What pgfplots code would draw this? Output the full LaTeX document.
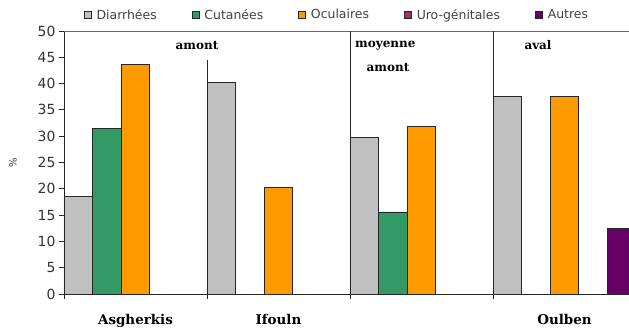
\documentclass[border=0pt]{standalone}
\usepackage{fontspec}
\setmainfont{DejaVu Sans}
\newfontfamily\labfont{DejaVu Serif}
\usepackage{pgfplots}
\pgfplotsset{compat=1.18}
\definecolor{cgrey}{HTML}{C0C0C0}
\definecolor{cgreen}{HTML}{339966}
\definecolor{corange}{HTML}{FF9900}
\definecolor{curo}{HTML}{993366}
\definecolor{cautres}{HTML}{660066}
\begin{document}
\begin{tikzpicture}
\begin{axis}[
  at={(0,0)}, anchor=south west,
  scale only axis, width=572bp, height=263bp,
  ybar=0pt, bar width=0.2,
  xmin=-0.5, xmax=3.5, ymin=0, ymax=50,
  axis x line*=bottom, axis y line*=left,
  axis line style={black!85, line width=0.8bp},
  tick align=outside, major tick length=5bp,
  tick style={black!85, line width=0.8bp},
  ytick={0,5,...,50},
  yticklabel style={font=\fontsize{14}{14}\selectfont, text=black!80},
  /pgf/number format/assume math mode=true,
  xtick={-0.5,0.5,1.5,2.5,3.5}, xticklabels={},
  extra x ticks={0,1,2,3},
  extra x tick labels={Asgherkis,Ifouln,,Oulben},
  extra x tick style={major tick length=0pt,
    tick label style={font=\labfont\bfseries\fontsize{13.5}{13.5}\selectfont, anchor=base, yshift=-30bp}},
  ylabel={\%},
  ylabel style={at={(axis description cs:0,0.5)}, anchor=center, yshift=51bp, font=\fontsize{10}{10}\selectfont, text=black!80},
  legend columns=5,
  legend style={at={(337bp-64bp,279bp)}, anchor=center, draw=none, fill=none,
    font=\fontsize{12.5}{12.5}\selectfont, text=black!75,
    /tikz/every even column/.append style={column sep=33bp}},
  legend image code/.code={\draw[#1, draw=black!85, line width=0.6bp] (0bp,-3.5bp) rectangle (7bp,3.5bp); \path (10bp,0bp);},
]
\addplot[fill=cgrey, draw=black!85, line width=0.8bp] coordinates {(0,18.6) (1,40.3) (2,29.7) (3,37.6)};
\addlegendentry{Diarrhées}
\addplot[fill=cgreen, draw=black!85, line width=0.8bp] coordinates {(0,31.4) (1,0) (2,15.6) (3,0)};
\addlegendentry{Cutanées}
\addplot[fill=corange, draw=black!85, line width=0.8bp] coordinates {(0,43.7) (1,20.2) (2,31.9) (3,37.6)};
\addlegendentry{Oculaires}
\addplot[fill=curo, draw=black!85, line width=0.8bp] coordinates {(0,0) (1,0) (2,0) (3,0)};
\addlegendentry{Uro-génitales}
\addplot[fill=cautres, draw=black!85, line width=0.8bp] coordinates {(0,0) (1,0) (2,0) (3,12.4)};
\addlegendentry{Autres}
\draw[black!60, line width=0.8bp] (rel axis cs:0,1) -- (rel axis cs:1,1);
\draw[black!85, line width=0.8bp] (axis cs:0.5,0) -- (axis cs:0.5,44.5);
\draw[black!85, line width=0.8bp] (axis cs:1.5,0) -- (axis cs:1.5,50);
\draw[black!85, line width=0.8bp] (axis cs:2.5,0) -- (axis cs:2.5,50);
\node[font=\labfont\bfseries\fontsize{12}{12}\selectfont] at (axis cs:0.43,47.3) {amont};
\node[font=\labfont\bfseries\fontsize{12}{12}\selectfont, anchor=west, inner sep=0pt] at (axis cs:1.535,47.3) {moyenne};
\node[font=\labfont\bfseries\fontsize{12}{12}\selectfont] at (axis cs:1.766,43.0) {amont};
\node[font=\labfont\bfseries\fontsize{12}{12}\selectfont] at (axis cs:2.815,47.3) {aval};
\end{axis}
\pgfresetboundingbox
\path (-64bp,-40bp) rectangle (565bp,294bp);
\end{tikzpicture}
\end{document}
